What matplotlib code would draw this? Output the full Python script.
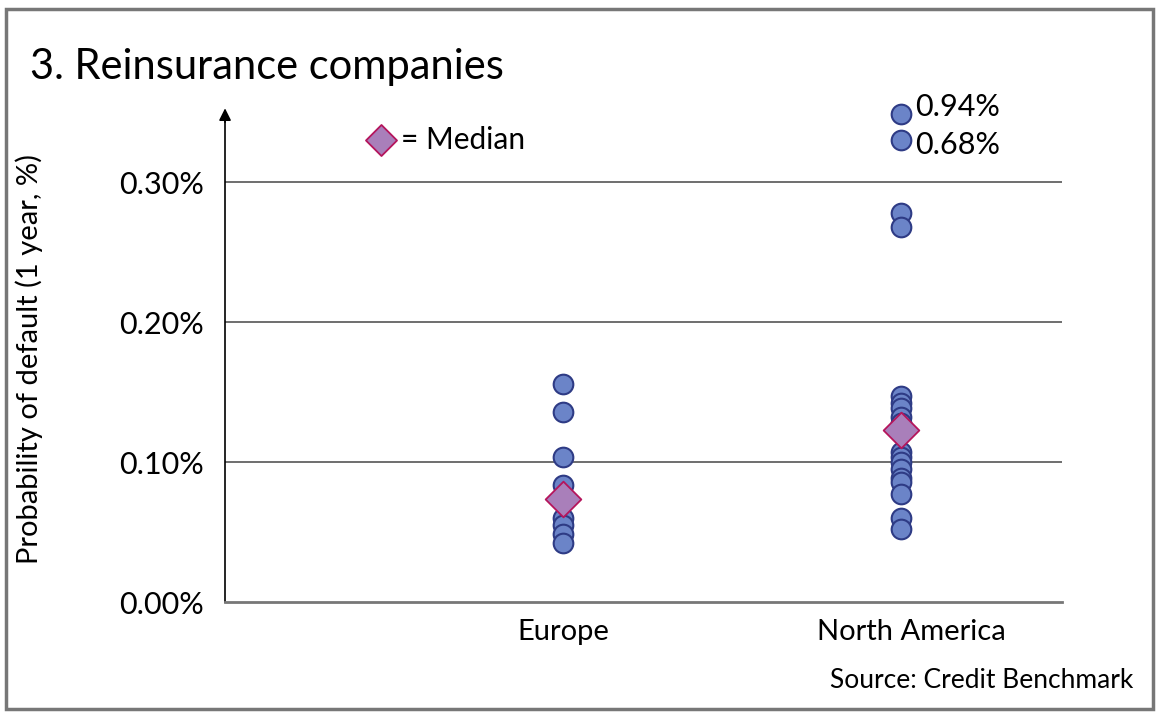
import matplotlib.pyplot as plt
from matplotlib.patches import Rectangle

plt.rcParams['font.family'] = ['Lato', 'DejaVu Sans']

regions = ['Europe', 'North America']

# probability of default, % (1 year)
europe = [0.156, 0.136, 0.104, 0.084, 0.060, 0.055, 0.049, 0.042]
north_america = [0.278, 0.268, 0.147, 0.142, 0.139, 0.132, 0.128, 0.107,
                 0.104, 0.100, 0.095, 0.089, 0.086, 0.077, 0.060, 0.052]
medians = [0.074, 0.123]

# two outliers off the scale, drawn at the top of the axis with labels
outlier_values = [0.94, 0.68]
outlier_shown_at = [0.349, 0.330]

dot_face = '#6b84c8'
dot_edge = '#2e3b85'
med_face = '#a97fba'
med_edge = '#b5155c'

fig = plt.figure(figsize=(11.6, 7.16), dpi=100)
ax = fig.add_axes([0.194, 0.159, 0.7215, 0.68])

for i, vals in enumerate([europe, north_america]):
    ax.scatter([i + 1] * len(vals), vals, s=200, c=dot_face,
               edgecolors=dot_edge, linewidths=1.5, zorder=3)

ax.scatter([2] * len(outlier_shown_at), outlier_shown_at, s=200, c=dot_face,
           edgecolors=dot_edge, linewidths=1.5, zorder=3, clip_on=False)
for v, y, dy in zip(outlier_values, outlier_shown_at, [5, -3]):
    ax.annotate('%.2f%%' % v, (2, y), xytext=(10, dy), textcoords='offset points',
                fontsize=22, va='center', ha='left', annotation_clip=False)

ax.scatter([1, 2], medians, s=330, marker='D', c=med_face,
           edgecolors=med_edge, linewidths=1.3, zorder=4)

# legend
ax.scatter([0.46], [0.3305], s=250, marker='D', c=med_face,
           edgecolors=med_edge, linewidths=1.3, clip_on=False)
ax.text(0.52, 0.3305, '= Median', fontsize=21.5, va='center', ha='left')

ax.set_xlim(0, 2.476)
ax.set_ylim(0, 0.348)
ax.set_yticks([0, 0.1, 0.2, 0.3])
ax.set_yticklabels(['0.00%', '0.10%', '0.20%', '0.30%'], fontsize=22)
ax.set_xticks([1, 2.03])
ax.set_xticklabels(regions, fontsize=21)
ax.tick_params(length=0, pad=12)
ax.tick_params(axis='y', pad=15)
ax.set_ylabel('Probability of default (1 year, %)', fontsize=21)
ax.yaxis.set_label_coords(-0.218, 0.5)

for y in [0.1, 0.2, 0.3]:
    ax.axhline(y, color='#555555', lw=1.2, zorder=1)

for s in ['top', 'right']:
    ax.spines[s].set_visible(False)
ax.spines['bottom'].set_color('#777777')
ax.spines['bottom'].set_linewidth(2)
ax.spines['left'].set_color('black')
ax.spines['left'].set_linewidth(1.2)
ax.annotate('', xy=(0, 1.02), xycoords='axes fraction', xytext=(0, 0.98),
            arrowprops=dict(arrowstyle='-|>', color='black', lw=1.2,
                            mutation_scale=18))

fig.text(0.026, 0.907, '3. Reinsurance companies', fontsize=30, va='center', ha='left')
fig.text(0.977, 0.049, 'Source: Credit Benchmark', fontsize=19, va='center', ha='right')

fig.patches.append(Rectangle((0.005, 0.01), 0.989, 0.978, transform=fig.transFigure,
                             fill=False, edgecolor='#777777', lw=2.5))

plt.savefig('out.png', dpi=100)
